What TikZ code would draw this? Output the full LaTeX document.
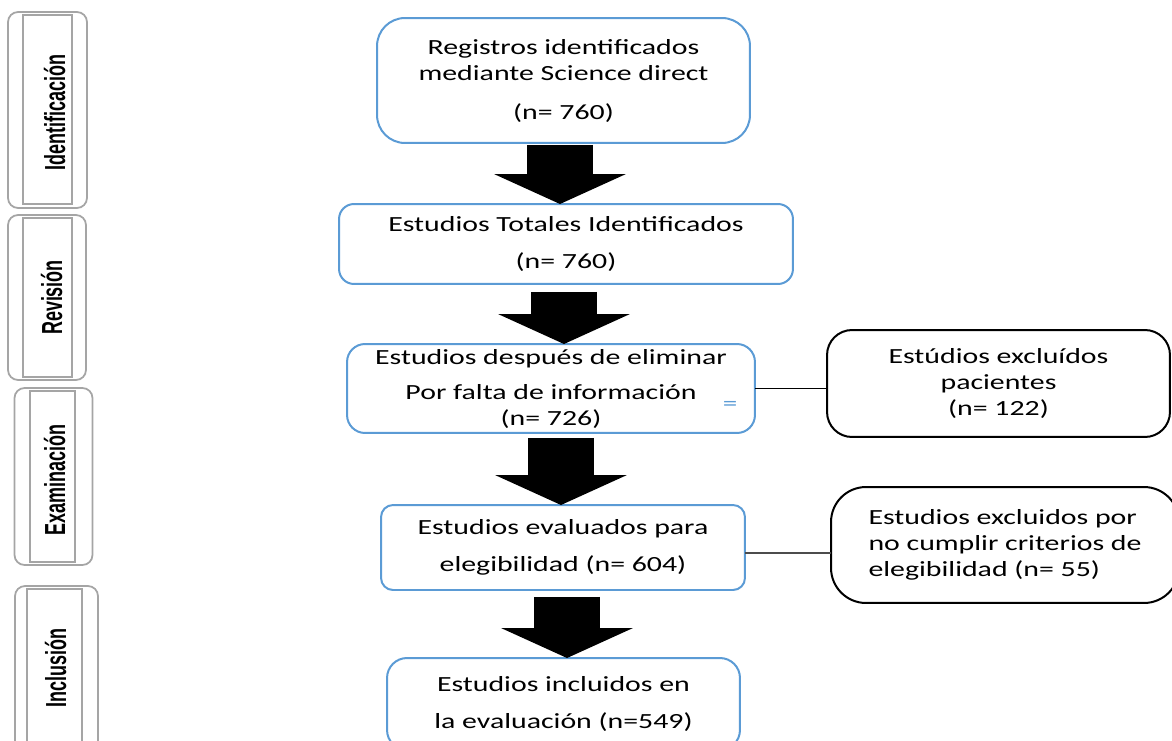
\documentclass[tikz,border=0pt]{standalone}
\usepackage{fontspec}
\usepackage{tikz}
\usetikzlibrary{arrows.meta,positioning}
\newfontfamily\boxfont[FakeStretch=1.38]{Carlito}
\newfontfamily\phasefont[FakeStretch=0.62]{Liberation Sans}
\definecolor{lineblue}{RGB}{91,155,213}
\definecolor{phasegray}{RGB}{165,165,165}
\tikzstyle{stage} = [draw=lineblue, line width=0.04cm, rounded corners=0.3cm, align=center, inner sep=0pt, font=\boxfont\fontsize{12.3}{14.8}\selectfont]
\tikzstyle{excl} = [draw=black, line width=0.04cm, rounded corners=0.5cm, inner sep=0pt, font=\boxfont\fontsize{12.3}{14.8}\selectfont]
\tikzstyle{phaseout} = [draw=phasegray, line width=0.035cm, rounded corners=0.2cm, inner sep=0pt]
\tikzstyle{phasein} = [draw=phasegray, line width=0.03cm, inner sep=0pt]
\tikzstyle{phasetxt} = [rotate=90, anchor=base, inner sep=0pt, font=\phasefont\bfseries\fontsize{16.5}{18}\selectfont]
\tikzstyle{bigarrow} = [line width=1.32cm, -{Triangle[width=2.64cm, length=0.6cm, line width=0pt]}]

\begin{document}
\begin{tikzpicture}[
        x=0.02cm, y=-0.02cm,
        every node/.style={outer sep=0pt}
        ]
        \useasboundingbox (0,0) rectangle (1172,740);

        \node[phaseout, minimum width=1.58cm, minimum height=3.92cm] (idout) at (47.5,110) {};
        \node[phasein, minimum width=0.98cm, minimum height=3.78cm] (idin) at (47.5,109.5) {};
        \node[phasetxt] (idtxt) at (65,112.5) {Identificación};

        \node[phaseout, minimum width=1.56cm, minimum height=3.3cm] (revout) at (47,297.5) {};
        \node[phasein, minimum width=0.98cm, minimum height=3.18cm] (revin) at (47.5,297.5) {};
        \node[phasetxt] (revtxt) at (62,297.5) {Revisión};

        \node[phaseout, minimum width=1.56cm, minimum height=3.54cm] (exout) at (53.5,476.5) {};
        \node[phasein, minimum width=0.9cm, minimum height=3.42cm] (exin) at (52.5,476.5) {};
        \node[phasetxt] (extxt) at (65,480) {Examinación};

        \node[phaseout, minimum width=1.66cm, minimum height=3.88cm] (incout) at (56.5,683) {};
        \node[phasein, minimum width=1.1cm, minimum height=3.76cm] (incin) at (54.5,683) {};
        \node[phasetxt] (inctxt) at (66,668) {Inclusión};

        \node[stage, rounded corners=0.56cm, minimum width=7.46cm, minimum height=2.5cm] (reg) at (563.5,80.5)
            {Registros identificados\\mediante Science direct\\[0.26cm](n= 760)};
        \node[stage, minimum width=9.08cm, minimum height=1.6cm] (tot) at (566,244)
            {Estudios Totales Identificados\\[0.22cm](n= 760)};
        \node[stage, rounded corners=0.36cm, minimum width=8.16cm, minimum height=1.78cm] (desp) at (551,388.5)
            {Estudios después de eliminar\\[0.18cm]Por falta de información\\(n= 726)};
        \node[stage, rounded corners=0.24cm, minimum width=7.28cm, minimum height=1.7cm] (eval) at (563,547.5)
            {Estudios evaluados para\\[0.22cm]elegibilidad (n= 604)};
        \node[stage, rounded corners=0.4cm, minimum width=7.06cm, minimum height=1.84cm] (incl) at (563.5,704)
            {Estudios incluidos en\\[0.22cm]la evaluación (n=549)};

        \node[excl, minimum width=6.86cm, minimum height=2.14cm, align=center] (pac) at (998.5,383.5)
            {Estúdios excluídos\\pacientes\\(n= 122)};
        \node[excl, rounded corners=0.7cm, minimum width=6.96cm, minimum height=2.32cm, align=left] (crit) at (1005,545)
            {Estudios excluidos por\\no cumplir criterios de\\elegibilidad (n= 55)};

        \node[text=lineblue, font=\boxfont\fontsize{12}{14}\selectfont] (eqmark) at (730,406) {=};

        \draw[bigarrow, shorten <=0.04cm] (reg.south -| 560,0) -- (tot.north -| 560,0);
        \draw[bigarrow, shorten <=0.16cm] (tot.south -| 564,0) -- (desp.north -| 564,0);
        \draw[bigarrow, shorten <=0.1cm] (desp.south -| 561,0) -- (eval.north -| 561,0);
        \draw[bigarrow, shorten <=0.14cm] (eval.south -| 567,0) -- (incl.north -| 567,0);

        \draw[line width=0.03cm] (desp.east) -- (desp.east -| pac.west);
        \draw[line width=0.04cm, black!70] (eval.east) ++(0,5) coordinate (evr) -- (evr -| crit.west);
\end{tikzpicture}
\end{document}
